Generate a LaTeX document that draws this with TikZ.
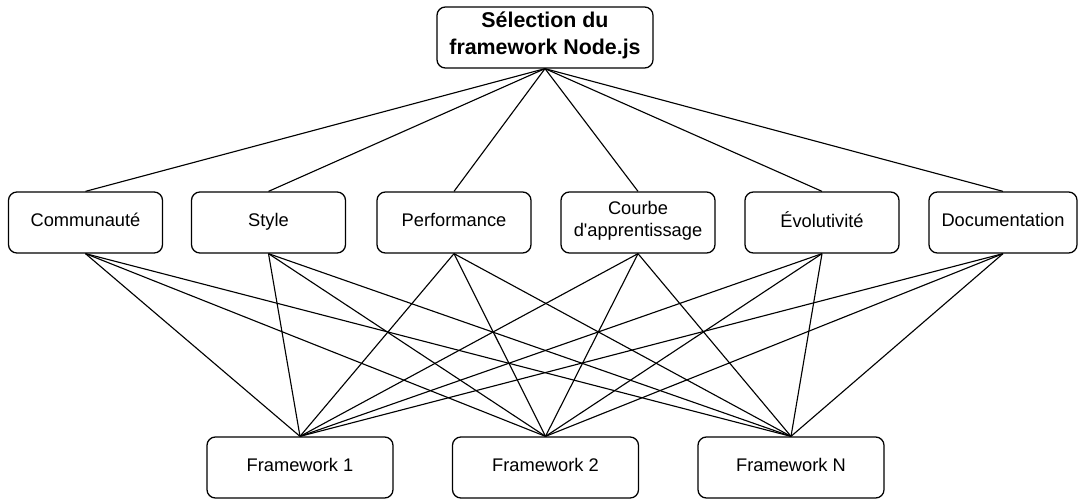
\documentclass[tikz,border=0pt]{standalone}
\usepackage{fontspec}
\setmainfont{Liberation Sans}
\usepackage{xcolor}

\begin{document}
\begin{tikzpicture}[x=0.025cm,y=-0.025cm,
            crit/.style={draw=black,rounded corners=6pt,line width=0.9pt,
                minimum width=3.85cm,minimum height=1.525cm,inner sep=0pt,
                align=center,font=\fontsize{13}{15.6}\selectfont,
                execute at begin node=\strut,execute at end node=\strut},
            fw/.style={crit,minimum width=4.65cm},
            head/.style={crit,minimum width=5.4cm,
                font=\fontsize{15.2}{19}\selectfont\bfseries},
            link/.style={line width=0.8pt}]
            \useasboundingbox (0,0) rectangle (1078,500);

            \node[head] (S) at (545,37.5) {Sélection du\\framework Node.js};

            \node[crit] (C1) at (85.5,222.5) {Communauté};
            \node[crit] (C2) at (268.5,222.5) {Style};
            \node[crit] (C3) at (454,222.5) {Performance};
            \node[crit] (C4) at (638,222.5) {Courbe\\d\textquotesingle apprentissage};
            \node[crit] (C5) at (822,222.5) {Évolutivité};
            \node[crit,minimum width=3.7cm] (C6) at (1003,222.5) {Documentation};

            \node[fw] (F1) at (300,467.5) {Framework 1};
            \node[fw] (F2) at (545.5,467.5) {Framework 2};
            \node[fw] (FN) at (791,467.5) {Framework N};

            \draw[link] (S.south) -- (C1.north);
            \draw[link] (S.south) -- (C2.north);
            \draw[link] (S.south) -- (C3.north);
            \draw[link] (S.south) -- (C4.north);
            \draw[link] (S.south) -- (C5.north);
            \draw[link] (S.south) -- (C6.north);

            \draw[link] (C1.south) -- (F1.north);
            \draw[link] (C1.south) -- (F2.north);
            \draw[link] (C1.south) -- (FN.north);
            \draw[link] (C2.south) -- (F1.north);
            \draw[link] (C2.south) -- (F2.north);
            \draw[link] (C2.south) -- (FN.north);
            \draw[link] (C3.south) -- (F1.north);
            \draw[link] (C3.south) -- (F2.north);
            \draw[link] (C3.south) -- (FN.north);
            \draw[link] (C4.south) -- (F1.north);
            \draw[link] (C4.south) -- (F2.north);
            \draw[link] (C4.south) -- (FN.north);
            \draw[link] (C5.south) -- (F1.north);
            \draw[link] (C5.south) -- (F2.north);
            \draw[link] (C5.south) -- (FN.north);
            \draw[link] (C6.south) -- (F1.north);
            \draw[link] (C6.south) -- (F2.north);
            \draw[link] (C6.south) -- (FN.north);
        \end{tikzpicture}
\end{document}
